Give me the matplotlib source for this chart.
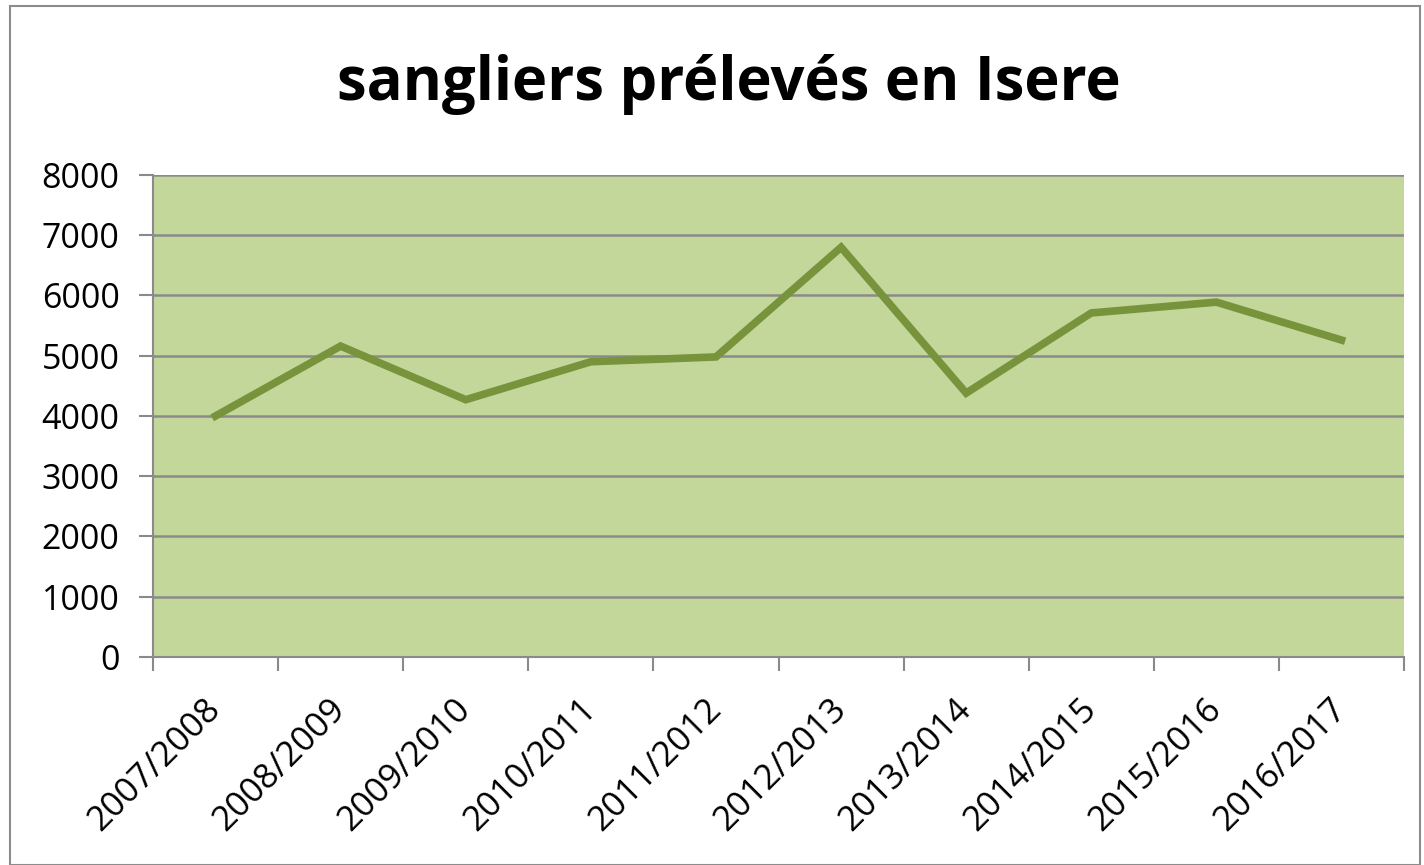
import matplotlib.pyplot as plt
from matplotlib.patches import Rectangle

seasons = ["2007/2008", "2008/2009", "2009/2010", "2010/2011", "2011/2012",
           "2012/2013", "2013/2014", "2014/2015", "2015/2016", "2016/2017"]
sangliers = [4000, 5160, 4270, 4900, 4980, 6800, 4380, 5710, 5890, 5260]

plt.rcParams['font.family'] = ['Open Sans', 'DejaVu Sans']

fig = plt.figure(figsize=(14.24, 8.65), dpi=100)
fig.patches.append(Rectangle((0.007, 0.0), 0.99, 0.993, transform=fig.transFigure,
                             fill=False, edgecolor="#8c8c8c", linewidth=1.5))

ax = fig.add_axes([0.1074, 0.2405, 0.8786, 0.5572])
ax.set_facecolor("#c4d79b")

x = range(len(seasons))
ax.plot(x, sangliers, color="#77933c", linewidth=5.5, solid_joinstyle="miter")

ax.set_xlim(-0.5, len(seasons) - 0.5)
ax.set_ylim(0, 8000)
ax.set_yticks(range(0, 8001, 1000))
ax.yaxis.grid(True, color="#8a8a8a", linewidth=1.8)
ax.set_axisbelow(True)

# category labels centred, tick marks on the boundaries
ax.set_xticks(list(x))
ax.set_xticklabels(seasons, rotation=45, ha="right", va="center",
                   rotation_mode="anchor", fontsize=25)
ax.tick_params(axis="x", length=0, pad=34)
ax.set_xticks([i - 0.5 for i in range(len(seasons) + 1)], minor=True)
ax.tick_params(axis="x", which="minor", length=10, width=1.5, color="#8a8a8a", direction="out")
ax.tick_params(axis="y", labelsize=24.5, length=10, width=1.5, color="#8a8a8a", pad=14)

for side in ["top", "right"]:
    ax.spines[side].set_visible(False)
ax.spines["left"].set_color("#8a8a8a")
ax.spines["bottom"].set_color("#8a8a8a")
ax.spines["left"].set_linewidth(1.5)
ax.spines["bottom"].set_linewidth(1.5)

fig.text(0.512, 0.902, "sangliers prélevés en Isere", ha="center", va="center",
         fontsize=43, fontweight="bold")

fig.savefig("out.png", dpi=100)
